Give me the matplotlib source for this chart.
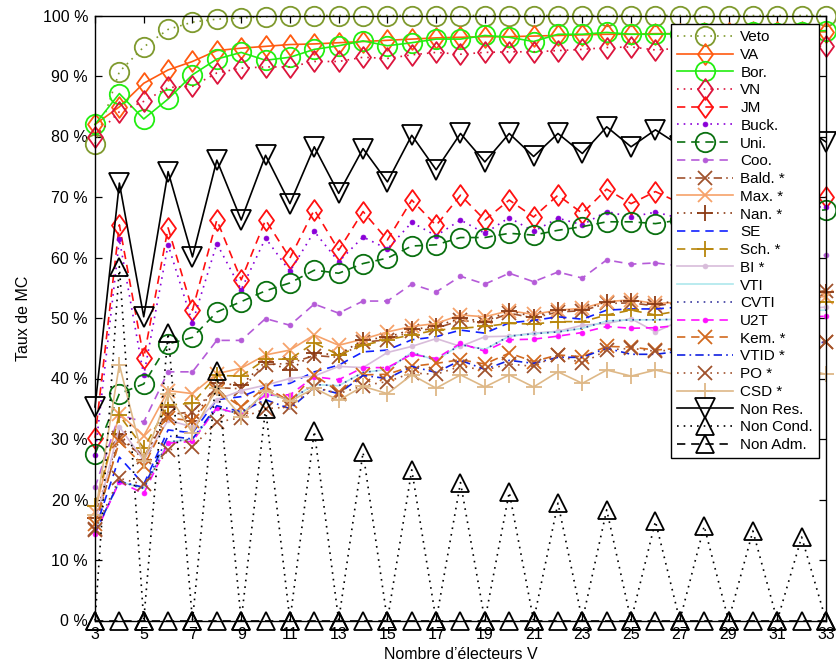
import matplotlib
matplotlib.use("Agg")
import matplotlib.pyplot as plt
from matplotlib.path import Path
import numpy as np

plt.rcParams['font.family'] = ['Liberation Sans', 'DejaVu Sans']

V = list(range(3, 34))

veto = [78.8, 90.7, 94.8, 97.7, 98.9, 99.4, 99.6, 99.8, 99.9, 100, 100, 100, 100, 100, 100, 100,
        100, 100, 100, 100, 100, 100, 100, 100, 100, 100, 100, 100, 100, 100, 100]
va = [82.0, 84.9, 88.8, 91.0, 92.4, 94.2, 94.6, 94.9, 95.2, 95.3, 95.5, 95.7, 95.9, 96.1, 96.3, 96.4,
      96.5, 96.5, 96.6, 96.7, 96.8, 96.9, 96.9, 97.0, 97.0, 97.1, 97.1, 97.2, 97.2, 97.3, 97.3]
bor = [82.0, 87.1, 82.9, 86.2, 90.2, 92.8, 93.9, 92.6, 93.1, 94.4, 95.0, 95.8, 95.0, 95.5, 96.1, 96.1,
       96.7, 96.4, 95.7, 96.9, 96.9, 97.2, 96.9, 96.9, 97.0, 97.1, 97.0, 97.2, 97.1, 97.3, 97.5]
vn = [80.0, 84.1, 85.8, 88.1, 88.3, 90.5, 91.3, 91.5, 91.5, 92.4, 92.4, 93.1, 92.9, 93.5, 93.9, 93.6,
      93.9, 94.0, 94.0, 94.2, 94.4, 94.7, 94.8, 94.3, 94.6, 94.8, 94.7, 94.9, 94.8, 95.0, 94.9]
jm = [30.2, 65.4, 43.4, 64.9, 51.3, 66.2, 56.3, 66.2, 59.9, 67.9, 61.2, 67.6, 62.9, 69.5, 65.3, 70.3,
      66.2, 69.5, 66.7, 70.3, 67.3, 71.3, 68.9, 70.9, 69.0, 71.0, 69.5, 71.2, 69.8, 71.0, 70.0]
buck = [27.4, 63.0, 40.5, 62.1, 49.2, 62.3, 54.7, 63.2, 57.7, 64.3, 59.3, 63.4, 61.4, 65.8, 63.6, 66.2,
        64.0, 66.6, 64.3, 66.5, 65.4, 67.6, 66.7, 67.5, 66.5, 67.8, 67.0, 68.0, 67.3, 68.2, 68.4]
uni = [27.5, 37.5, 39.1, 45.7, 46.8, 51.0, 52.7, 54.5, 55.8, 57.9, 57.4, 59.0, 59.9, 61.9, 62.1, 63.3,
       63.3, 64.0, 63.7, 64.5, 65.1, 65.9, 65.9, 65.6, 66.2, 66.5, 66.6, 67.0, 67.1, 67.4, 67.9]
coo = [22.0, 34.0, 32.8, 41.1, 41.1, 46.3, 46.3, 49.9, 48.8, 52.3, 50.8, 52.8, 52.8, 55.6, 54.3, 56.9,
       55.6, 57.4, 56.0, 57.6, 56.6, 59.6, 58.9, 59.1, 58.6, 59.8, 59.2, 60.0, 59.5, 60.3, 60.4]
bald = [15.2, 30.2, 27.0, 34.0, 34.5, 38.5, 38.3, 42.3, 42.5, 43.8, 43.5, 46.0, 46.4, 47.8, 48.3, 49.6,
        49.2, 50.8, 50.0, 51.0, 51.2, 52.4, 52.5, 52.0, 52.6, 53.3, 53.0, 53.7, 53.4, 54.1, 54.5]
maxi = [18.0, 34.2, 30.5, 38.0, 37.5, 40.8, 41.7, 43.9, 44.7, 47.2, 45.5, 46.5, 47.7, 48.6, 49.1, 50.5,
        50.2, 51.2, 50.6, 51.3, 51.6, 52.7, 53.0, 52.4, 52.6, 53.2, 52.9, 53.4, 53.1, 53.6, 53.5]
nan_ = [17.0, 30.8, 26.5, 35.3, 33.0, 39.2, 38.9, 42.8, 41.4, 44.2, 43.9, 46.4, 46.8, 48.1, 48.6, 50.0,
        49.4, 51.2, 50.2, 51.3, 51.4, 52.7, 52.8, 52.3, 52.9, 53.5, 53.2, 53.8, 53.6, 54.2, 54.3]
se = [15.0, 27.0, 22.5, 31.5, 31.0, 36.5, 37.0, 38.6, 39.2, 41.1, 42.2, 44.4, 44.7, 46.4, 46.9, 48.0,
      47.5, 49.2, 49.6, 50.2, 49.8, 51.3, 51.5, 51.5, 51.8, 52.3, 52.2, 52.7, 52.8, 53.2, 53.5]
sch = [19.0, 33.9, 28.5, 35.6, 35.9, 40.5, 40.4, 43.2, 43.2, 45.9, 43.9, 45.5, 46.4, 47.2, 48.0, 48.3,
       48.6, 49.1, 49.0, 49.4, 49.4, 50.5, 51.3, 50.5, 51.2, 51.8, 51.5, 52.1, 51.9, 52.5, 52.7]
bi = [16.0, 32.0, 26.5, 33.1, 32.0, 36.5, 38.0, 38.9, 40.0, 40.4, 42.0, 41.8, 44.3, 45.3, 46.6, 45.3,
      46.9, 47.0, 47.5, 47.8, 48.8, 49.1, 49.9, 47.7, 49.5, 50.5, 50.0, 51.0, 50.6, 51.5, 51.8]
vti = [14.5, 23.0, 21.8, 29.5, 30.0, 35.0, 34.2, 37.5, 36.5, 39.0, 38.8, 41.0, 41.5, 44.3, 43.0, 45.6,
       44.8, 47.0, 47.4, 47.7, 48.3, 49.5, 49.7, 49.7, 49.8, 50.4, 50.3, 50.8, 50.8, 51.2, 51.3]
cvti = [14.5, 23.0, 21.8, 29.5, 30.0, 35.0, 34.2, 37.5, 36.5, 39.0, 38.8, 41.0, 41.5, 44.3, 43.0, 45.6,
        44.8, 47.0, 47.4, 47.7, 48.3, 49.5, 49.7, 49.7, 49.8, 50.4, 50.3, 50.8, 50.8, 51.2, 51.3]
u2t = [14.3, 22.9, 21.0, 29.3, 29.6, 35.2, 34.0, 37.3, 37.3, 40.3, 39.8, 41.8, 41.8, 44.0, 43.3, 45.8,
       44.5, 46.4, 46.5, 47.0, 47.6, 48.6, 48.3, 48.4, 48.8, 49.3, 49.2, 49.7, 49.8, 50.1, 50.3]
kem = [16.0, 29.6, 25.5, 33.5, 33.0, 38.0, 35.3, 38.6, 36.2, 40.6, 37.8, 40.6, 40.7, 42.0, 42.5, 43.1,
       42.4, 44.2, 42.8, 43.9, 43.6, 45.3, 45.2, 44.7, 45.0, 45.6, 45.3, 45.9, 45.6, 46.2, 46.1]
vtid = [14.5, 23.0, 22.0, 30.5, 30.0, 35.5, 34.5, 36.5, 35.0, 38.5, 37.5, 40.5, 40.0, 42.0, 41.0, 43.0,
        41.5, 43.0, 42.5, 43.5, 43.5, 45.0, 44.0, 44.0, 44.5, 45.0, 44.8, 45.3, 45.2, 45.7, 46.0]
po = [15.0, 23.5, 22.5, 28.2, 28.7, 32.8, 33.5, 35.0, 35.3, 38.6, 37.5, 38.8, 39.5, 40.9, 40.7, 42.0,
      41.4, 42.4, 42.0, 43.9, 42.5, 44.7, 45.0, 44.5, 44.8, 45.4, 45.1, 45.6, 45.4, 45.9, 46.0]
csd = [17.5, 42.3, 26.3, 37.5, 31.0, 38.5, 33.7, 38.0, 36.2, 38.4, 36.4, 38.7, 37.5, 40.6, 38.4, 40.6,
       38.6, 40.6, 38.6, 41.1, 39.2, 41.4, 40.4, 41.4, 40.5, 41.5, 40.6, 41.6, 40.7, 41.6, 40.7]
non_res = [35.3, 72.3, 50.2, 74.2, 60.1, 76.1, 66.2, 76.9, 68.9, 78.3, 70.6, 78.0, 72.5, 80.2, 74.5, 80.5,
           75.8, 80.5, 76.7, 80.5, 77.2, 81.6, 78.3, 81.1, 78.5, 81.5, 78.8, 81.5, 79.0, 81.8, 79.1]
non_cond = [0, 58.5, 0, 47.5, 0, 41.2, 0, 35.0, 0, 31.3, 0, 27.8, 0, 24.9, 0, 22.8,
            0, 21.2, 0, 19.4, 0, 18.3, 0, 16.4, 0, 15.6, 0, 14.8, 0, 13.8, 0]
non_adm = [0] * 31

diamond = Path([(0, 1), (0.72, 0), (0, -1), (-0.72, 0), (0, 1)],
               [Path.MOVETO, Path.LINETO, Path.LINETO, Path.LINETO, Path.CLOSEPOLY])

DASH = (5, 3.5)
DOT = (1, 3)
DASHDOT = (5, 2.5, 1, 2.5)

series = [
    ("Veto", veto, dict(color='#7F9A2E', ls=(0, DOT), marker='o', ms=14)),
    ("VA", va, dict(color='#FF5A10', ls='-', marker=diamond, ms=15)),
    ("Bor.", bor, dict(color='#22EE11', ls='-', marker='o', ms=14)),
    ("VN", vn, dict(color='#DC143C', ls=(0, DOT), marker=diamond, ms=15)),
    ("JM", jm, dict(color='#FF1010', ls=(0, DASH), marker=diamond, ms=15)),
    ("Buck.", buck, dict(color='#8A00D8', ls=(0, DOT), marker='.', ms=7)),
    ("Uni.", uni, dict(color='#0A7010', ls=(0, DASH), marker='o', ms=14)),
    ("Coo.", coo, dict(color='#B55BD8', ls=(0, DASH), marker='.', ms=7)),
    ("Bald. *", bald, dict(color='#A0522D', ls=(0, DASHDOT), marker='x', ms=10)),
    ("Max. *", maxi, dict(color='#F6A26A', ls='-', marker='x', ms=10)),
    ("Nan. *", nan_, dict(color='#8B3A14', ls=(0, DOT), marker='+', ms=12)),
    ("SE", se, dict(color='#1020FF', ls=(0, DASH), marker=None, ms=0)),
    ("Sch. *", sch, dict(color='#B8860B', ls=(0, DASH), marker='+', ms=12)),
    ("BI *", bi, dict(color='#D8BCDA', ls='-', marker='.', ms=7)),
    ("VTI", vti, dict(color='#AEE8EC', ls='-', marker=None, ms=0)),
    ("CVTI", cvti, dict(color='#3A3AA0', ls=(0, DOT), marker=None, ms=0)),
    ("U2T", u2t, dict(color='#FF10FF', ls=(0, DASH), marker='.', ms=7)),
    ("Kem. *", kem, dict(color='#D2691E', ls=(0, DASH), marker='x', ms=10)),
    ("VTID *", vtid, dict(color='#1020E0', ls=(0, DASHDOT), marker=None, ms=0)),
    ("PO *", po, dict(color='#A0522D', ls=(0, DOT), marker='x', ms=10)),
    ("CSD *", csd, dict(color='#DEB887', ls='-', marker='+', ms=12)),
    ("Non Res.", non_res, dict(color='black', ls='-', marker='v', ms=14)),
    ("Non Cond.", non_cond, dict(color='black', ls=(0, DOT), marker='^', ms=13)),
    ("Non Adm.", non_adm, dict(color='black', ls=(0, DASH), marker='^', ms=13)),
]

fig = plt.figure(figsize=(8.37, 6.70), dpi=100)
ax = fig.add_axes([95 / 837, (670 - 620.5) / 670, (826 - 95) / 837, (620.5 - 15.5) / 670])

for label, vals, st in series:
    kw = dict(color=st['color'], linestyle=st['ls'], linewidth=1.2, label=label, clip_on=False)
    if st['marker'] is not None:
        kw.update(marker=st['marker'], markersize=st['ms'], markerfacecolor='none',
                  markeredgecolor=st['color'], markeredgewidth=1.3)
        if st['marker'] == '.':
            kw.update(markerfacecolor=st['color'], markeredgewidth=0.5)
    ax.plot(V, vals, **kw)

ax.set_xlim(3, 33)
ax.set_ylim(0, 100)
ax.set_xticks(list(range(3, 34, 2)))
ax.set_yticks(list(range(0, 101, 10)))
ax.set_yticklabels([f"{t} %" for t in range(0, 101, 10)])
ax.tick_params(direction='in', top=True, right=True, length=5, width=0.9, labelsize=11.5, pad=5)
for sp in ax.spines.values():
    sp.set_linewidth(1.0)

ax.set_xlabel("Nombre d’électeurs V", fontsize=11.5, labelpad=3)
ax.set_ylabel("Taux de MC", fontsize=11.5, labelpad=8)

leg = ax.legend(loc='upper right', bbox_to_anchor=(819 / 837, 1 - 24 / 670),
                bbox_transform=fig.transFigure, fontsize=11, handlelength=3.7,
                handletextpad=0.45, labelspacing=0.245, borderpad=0.4, borderaxespad=0,
                fancybox=False, framealpha=1, edgecolor='black', numpoints=1)
leg.get_frame().set_linewidth(1.0)

fig.savefig("out.png", dpi=100)
